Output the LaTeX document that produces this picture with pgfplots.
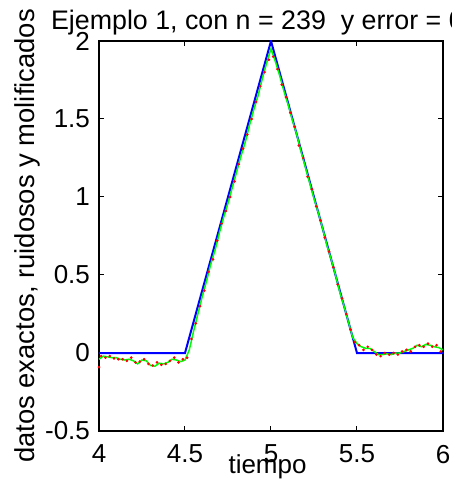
\documentclass[border=0pt]{standalone}
\usepackage{pgfplots}
\pgfplotsset{compat=1.18}
\usepackage{fontspec}
\setmainfont{Liberation Sans}
\begin{document}
\begin{tikzpicture}
\useasboundingbox (-49.5pt,-26pt) rectangle (176pt,215.5pt);
\begin{axis}[
  at={(0pt,0pt)}, anchor=south west,
  scale only axis, width=172pt, height=195pt,
  xmin=4, xmax=6, ymin=-0.5, ymax=2,
  xtick={4,4.5,5,5.5,6}, ytick={-0.5,0,0.5,1,1.5,2},
  xticklabels={4,4.5,5,5.5,6},
  yticklabels={-0.5,0,0.5,1,1.5,2},
  tick align=inside, major tick length=2.5pt,
  tick style={black, line width=0.5pt},
  axis line style={black, line width=0.6pt},
  /pgf/number format/assume math mode=true,
  ticklabel style={font=\fontsize{13}{15}\selectfont},
  xticklabel style={yshift=-3.5pt},
  yticklabel style={xshift=-1pt},
  xlabel={tiempo},
  xlabel style={font=\fontsize{13}{15}\selectfont, at={(axis description cs:0.49,0)}, anchor=base, yshift=-21pt},
  ylabel={datos exactos, ruidosos y molificados},
  ylabel style={font=\fontsize{13.7}{15}\selectfont, at={(axis description cs:-0.207,0.5)}, anchor=center},
  title={Ejemplo 1, con n = 239\ \ y error = 0.05},
  title style={font=\fontsize{13.4}{15}\selectfont, at={(axis description cs:-0.1337,1)}, anchor=base west, xshift=-4.5pt, yshift=-0.5pt},
]
\addplot[blue, line width=1pt] coordinates {(4,0) (4.5,0) (5,2) (5.5,0) (6,0)};
\addplot[red, only marks, mark=*, mark size=0.45pt] coordinates {
(4.0,-0.09) (4.0125,-0.02) (4.0375,-0.03) (4.0625,-0.02) (4.0875,-0.035) (4.1125,-0.04)
(4.1375,-0.04) (4.1625,-0.05) (4.1875,-0.03) (4.2125,-0.06) (4.2375,-0.055) (4.2625,-0.04)
(4.2875,-0.07) (4.3125,-0.08) (4.3375,-0.06) (4.3625,-0.075) (4.3875,-0.07) (4.4125,-0.05)
(4.4375,-0.03) (4.4625,-0.06) (4.4875,-0.04) (4.5125,-0.03) (4.5375,0.09) (4.5625,0.19)
(4.5875,0.30) (4.6125,0.40) (4.6375,0.52) (4.6625,0.60) (4.6875,0.72) (4.7125,0.83)
(4.7375,0.91) (4.7625,1.00) (4.7875,1.10) (4.8125,1.21) (4.8375,1.31) (4.8625,1.40)
(4.8875,1.50) (4.9125,1.61) (4.9375,1.71) (4.9625,1.80) (4.9875,1.88) (5.0125,1.90)
(5.0375,1.82) (5.0625,1.72) (5.0875,1.64) (5.1125,1.54) (5.1375,1.45) (5.1625,1.33)
(5.1875,1.25) (5.2125,1.13) (5.2375,1.05) (5.2625,0.94) (5.2875,0.85) (5.3125,0.74)
(5.3375,0.65) (5.3625,0.55) (5.3875,0.44) (5.4125,0.35) (5.4375,0.25) (5.4625,0.15)
(5.4875,0.07) (5.5125,0.05) (5.5375,0.02) (5.5625,0.04) (5.5875,0.02) (5.6125,-0.01)
(5.6375,-0.02) (5.6625,0.00) (5.6875,-0.01) (5.7125,0.00) (5.7375,-0.01) (5.7625,0.01)
(5.7875,0.02) (5.8125,0.01) (5.8375,0.04) (5.8625,0.05) (5.8875,0.04) (5.9125,0.06)
(5.9375,0.04) (5.9625,0.05) (5.9875,0.01)
};
\addplot[green, line width=0.75pt] coordinates {
(4.000,-0.04) (4.025,-0.02) (4.050,-0.025) (4.075,-0.03) (4.100,-0.03) (4.125,-0.04)
(4.150,-0.045) (4.175,-0.04) (4.200,-0.05) (4.225,-0.07) (4.250,-0.045) (4.275,-0.05)
(4.300,-0.08) (4.325,-0.085) (4.350,-0.065) (4.375,-0.07) (4.400,-0.06) (4.425,-0.04)
(4.450,-0.045) (4.475,-0.055) (4.500,-0.045) (4.525,0.02) (4.550,0.14) (4.575,0.25)
(4.600,0.36) (4.625,0.46) (4.650,0.57) (4.675,0.66) (4.700,0.77) (4.725,0.87)
(4.750,0.96) (4.775,1.06) (4.800,1.16) (4.825,1.26) (4.850,1.35) (4.875,1.46)
(4.900,1.56) (4.925,1.65) (4.950,1.76) (4.975,1.86) (5.000,1.95) (5.025,1.87)
(5.050,1.78) (5.075,1.68) (5.100,1.59) (5.125,1.49) (5.150,1.40) (5.175,1.29)
(5.200,1.19) (5.225,1.09) (5.250,0.99) (5.275,0.90) (5.300,0.80) (5.325,0.69)
(5.350,0.60) (5.375,0.50) (5.400,0.39) (5.425,0.30) (5.450,0.20) (5.475,0.10)
(5.500,0.06) (5.525,0.04) (5.550,0.03) (5.575,0.03) (5.600,0.01) (5.625,-0.01)
(5.650,-0.01) (5.675,-0.005) (5.700,-0.01) (5.725,0.00) (5.750,0.00) (5.775,0.01)
(5.800,0.02) (5.825,0.03) (5.850,0.05) (5.875,0.04) (5.900,0.055) (5.925,0.05)
(5.950,0.04) (5.975,0.035) (6.000,0.02)
};
\end{axis}
\end{tikzpicture}
\end{document}
